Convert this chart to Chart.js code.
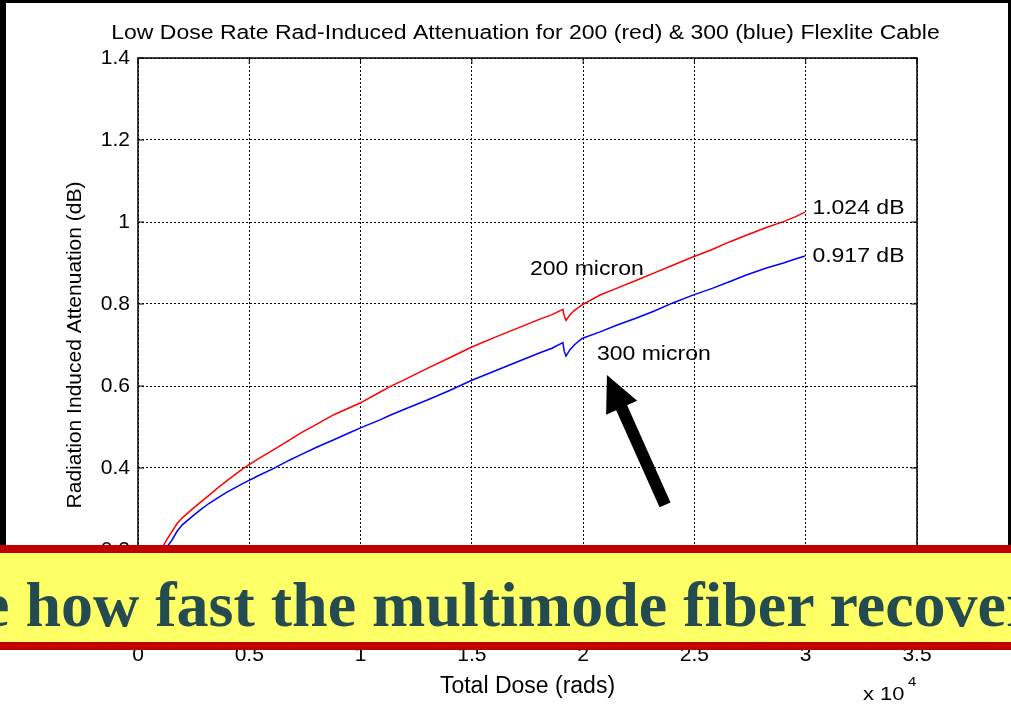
<!DOCTYPE html>
<html>
<head>
<meta charset="utf-8">
<title>Low Dose Rate Rad-Induced Attenuation</title>
<script src="https://cdn.jsdelivr.net/npm/chart.js@4.4.1/dist/chart.umd.min.js"></script>
<style>
  html, body { margin: 0; padding: 0; background: #fff; overflow: hidden; }
  #wrap { position: relative; width: 1011px; height: 711px; }
  #plot { position: absolute; left: 0; top: 0; }
  .frame { position: absolute; background: #000; }
  #banner {
    position: absolute; left: 0; top: 545px; width: 1011px; height: 89px;
    border-top: 8px solid #c00000; border-bottom: 8px solid #c00000;
    background: #ffff66; overflow: hidden;
  }
  #banner span {
    position: absolute; left: -19px; top: 15px; line-height: 64px; white-space: nowrap;
    font: bold 64px "Liberation Serif", "Times New Roman", serif; color: #234b50;
  }
</style>
</head>
<body>
<div id="wrap">
  <canvas id="plot" width="1011" height="711"></canvas>
  <div class="frame" style="left:0;top:0;width:1011px;height:3px"></div>
  <div class="frame" style="left:0;top:0;width:6px;height:650px"></div>
  <div class="frame" style="left:1008px;top:0;width:3px;height:545px"></div>
  <div id="banner"><span>e how fast the multimode fiber recover</span></div>
</div>
<script>
// total dose (rads) sampled along both cables
const doseRads = [700, 900, 1100, 1300, 1500, 1750, 2000, 2400, 2800, 3200, 3600, 4000, 4700, 5400,
  6100, 6800, 7300, 8000, 8800, 9500, 10000, 10900, 11300, 12000, 13000, 14000, 15000, 16000,
  17000, 18000, 18600, 19090, 19150, 19230, 19400, 19600, 19950, 20760, 21500, 22400, 23200,
  24000, 24900, 25800, 26600, 27300, 28200, 29000, 29500, 29970];

// radiation induced attenuation (dB), 200 micron fibre
const red200 = [0.13, 0.17, 0.207, 0.226, 0.243, 0.264, 0.279, 0.298, 0.316, 0.334, 0.352, 0.369,
  0.398, 0.422, 0.445, 0.468, 0.485, 0.506, 0.530, 0.547, 0.559, 0.586, 0.598, 0.616, 0.643,
  0.669, 0.695, 0.718, 0.740, 0.762, 0.774, 0.787, 0.771, 0.760, 0.773, 0.784, 0.798, 0.822,
  0.838, 0.858, 0.876, 0.894, 0.914, 0.933, 0.952, 0.967, 0.986, 1.001, 1.012, 1.024];

// radiation induced attenuation (dB), 300 micron fibre
const blue300 = [0.05, 0.11, 0.165, 0.208, 0.222, 0.245, 0.262, 0.280, 0.298, 0.314, 0.328, 0.341,
  0.362, 0.381, 0.399, 0.419, 0.432, 0.450, 0.469, 0.486, 0.498, 0.518, 0.528, 0.544, 0.566,
  0.589, 0.614, 0.636, 0.658, 0.680, 0.692, 0.706, 0.685, 0.673, 0.688, 0.700, 0.716, 0.732,
  0.748, 0.766, 0.783, 0.802, 0.821, 0.838, 0.855, 0.870, 0.887, 0.900, 0.909, 0.917];

const xTicks = [0, 5000, 10000, 15000, 20000, 25000, 30000, 35000];
const yTicks = [0, 0.2, 0.4, 0.6, 0.8, 1.0, 1.2, 1.4];

const chartTitle = 'Low Dose Rate Rad-Induced Attenuation for 200 (red) & 300 (blue) Flexlite Cable';

// text notes placed in data units (dose, dB)
const notes = [
  { text: '1.024 dB', dose: 30300, att: 1.032 },
  { text: '0.917 dB', dose: 30300, att: 0.915 },
  { text: '200 micron', dose: 17610, att: 0.883 },
  { text: '300 micron', dose: 20620, att: 0.676 }
];
const arrowTail = { dose: 23680, att: 0.310 };
const arrowTip = { dose: 21070, att: 0.627 };

const FONT = '"Liberation Sans", Arial, Helvetica, sans-serif';
const WIDE = 1.15; // plot text runs a bit wide
const pts = (ys) => doseRads.map((d, i) => ({ x: d, y: ys[i] }));

function wideText(ctx, text, px, py) {
  ctx.save();
  ctx.translate(px, py);
  ctx.scale(WIDE, 1);
  ctx.fillText(text, 0, 0);
  ctx.restore();
}

// box, inward ticks, title, notes, arrow and the x10^4 multiplier
const matlabDecor = {
  id: 'matlabDecor',
  afterDraw(chart) {
    const { ctx, chartArea: a, scales: { x, y } } = chart;
    ctx.save();
    ctx.strokeStyle = '#000';
    ctx.lineWidth = 1.5;
    ctx.strokeRect(a.left, a.top, a.right - a.left, a.bottom - a.top);

    ctx.lineWidth = 1;
    ctx.beginPath();
    const tl = 6;
    xTicks.forEach(v => {
      const px = x.getPixelForValue(v);
      ctx.moveTo(px, a.bottom); ctx.lineTo(px, a.bottom - tl);
      ctx.moveTo(px, a.top); ctx.lineTo(px, a.top + tl);
    });
    yTicks.forEach(v => {
      const py = y.getPixelForValue(v);
      ctx.moveTo(a.left, py); ctx.lineTo(a.left + tl, py);
      ctx.moveTo(a.right, py); ctx.lineTo(a.right - tl, py);
    });
    ctx.stroke();

    ctx.fillStyle = '#000';
    ctx.textBaseline = 'middle';
    ctx.textAlign = 'center';
    ctx.font = '20px ' + FONT;
    wideText(ctx, chartTitle, (a.left + a.right) / 2 - 2, a.top - 25);

    ctx.textAlign = 'left';
    notes.forEach(n => wideText(ctx, n.text, x.getPixelForValue(n.dose), y.getPixelForValue(n.att)));

    // thick black pointer towards the 300 micron curve
    const tx = x.getPixelForValue(arrowTail.dose), ty = y.getPixelForValue(arrowTail.att);
    const hx = x.getPixelForValue(arrowTip.dose), hy = y.getPixelForValue(arrowTip.att);
    const len = Math.hypot(hx - tx, hy - ty);
    const ux = (hx - tx) / len, uy = (hy - ty) / len;
    const nx = -uy, ny = ux;
    const headLen = 36, headHalf = 17, shaftHalf = 6;
    const bx = hx - ux * headLen, by = hy - uy * headLen;
    ctx.beginPath();
    ctx.moveTo(tx + nx * shaftHalf, ty + ny * shaftHalf);
    ctx.lineTo(bx + nx * shaftHalf, by + ny * shaftHalf);
    ctx.lineTo(bx + nx * headHalf, by + ny * headHalf);
    ctx.lineTo(hx, hy);
    ctx.lineTo(bx - nx * headHalf, by - ny * headHalf);
    ctx.lineTo(bx - nx * shaftHalf, by - ny * shaftHalf);
    ctx.lineTo(tx - nx * shaftHalf, ty - ny * shaftHalf);
    ctx.closePath();
    ctx.fill();

    ctx.textBaseline = 'alphabetic';
    ctx.font = '19px ' + FONT;
    wideText(ctx, 'x 10', a.right - 54, a.bottom + 68);
    ctx.font = '13px ' + FONT;
    wideText(ctx, '4', a.right - 9, a.bottom + 54);
    ctx.restore();
  }
};

new Chart(document.getElementById('plot'), {
  type: 'line',
  data: {
    datasets: [
      { label: '200 micron', data: pts(red200), borderColor: '#ff0000', borderWidth: 1.5, pointRadius: 0, tension: 0 },
      { label: '300 micron', data: pts(blue300), borderColor: '#0000ff', borderWidth: 1.5, pointRadius: 0, tension: 0 }
    ]
  },
  options: {
    responsive: false,
    animation: false,
    devicePixelRatio: 1,
    layout: { padding: { top: 58, right: 94, left: 0, bottom: 0 } },
    plugins: { legend: { display: false }, tooltip: { enabled: false } },
    scales: {
      x: {
        type: 'linear', min: 0, max: 35000,
        afterFit: s => { s.height = 79; },
        afterBuildTicks: s => { s.ticks = xTicks.map(v => ({ value: v })); },
        ticks: { padding: 11, color: '#000', font: { family: FONT, size: 21 }, callback: v => String(v / 10000) },
        grid: { color: '#000', lineWidth: 1, drawTicks: false },
        border: { display: false, dash: [2, 2] },
        title: { display: true, text: 'Total Dose (rads)', color: '#000', font: { family: FONT, size: 23 }, padding: { bottom: 11, top: 0 } }
      },
      y: {
        min: 0, max: 1.4,
        afterFit: s => { s.width = 138; },
        afterBuildTicks: s => { s.ticks = yTicks.map(v => ({ value: v })); },
        ticks: { padding: 8, color: '#000', font: { family: FONT, size: 21 }, callback: v => String(Number(v.toFixed(1))) },
        grid: { color: '#000', lineWidth: 1, drawTicks: false },
        border: { display: false, dash: [2, 2] },
        title: { display: true, text: 'Radiation Induced Attenuation (dB)', color: '#000', font: { family: FONT, size: 21 }, padding: { top: 63, bottom: 0 } }
      }
    }
  },
  plugins: [matlabDecor]
});
</script>
</body>
</html>
